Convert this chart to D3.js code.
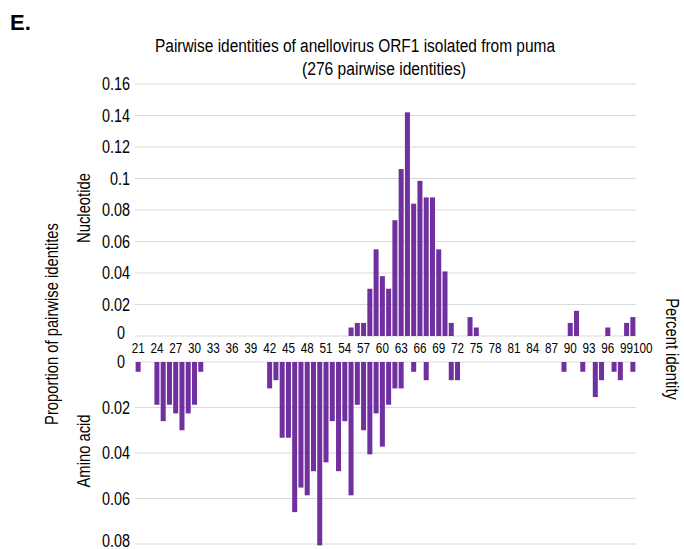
<!DOCTYPE html>
<html>
<head>
<meta charset="utf-8">
<script src="https://cdn.jsdelivr.net/npm/d3@7"></script>
<style>
  html, body { margin: 0; padding: 0; background: #fff; }
  svg { display: block; }
  text { font-family: "Liberation Sans", Arial, sans-serif; fill: #000; }
</style>
</head>
<body>
<svg id="chart" width="684" height="549"></svg>
<script>
// Percent identity categories on the shared x axis
const categories = d3.range(21, 101);
const xTickLabels = [21, 24, 27, 30, 33, 36, 39, 42, 45, 48, 51, 54, 57, 60, 63, 66, 69, 72, 75, 78, 81, 84, 87, 90, 93, 96, 99, 100];

// Nucleotide pairwise identities (upper panel)
const ntIdentity   = [55, 56, 57, 58, 59, 60, 61, 62, 63, 64, 65, 66, 67, 68, 69, 70, 71, 74, 75, 90, 91, 96, 99, 100];
const ntProportion = [0.0054, 0.0083, 0.0083, 0.030, 0.055, 0.038, 0.030, 0.0735, 0.106, 0.142, 0.084, 0.0985,
                      0.088, 0.088, 0.055, 0.041, 0.0083, 0.012, 0.0054, 0.0083, 0.016, 0.0054, 0.0083, 0.012];

// Amino acid pairwise identities (lower panel, drawn downward)
const aaIdentity   = [21, 24, 25, 26, 27, 28, 29, 30, 31, 42, 43, 44, 45, 46, 47, 48, 49, 50, 51, 52, 53, 54, 55,
                      56, 57, 58, 59, 60, 61, 62, 63, 65, 67, 71, 72, 89, 92, 94, 95, 97, 98, 100];
const aaProportion = [0.0043, 0.0188, 0.026, 0.0188, 0.0226, 0.030, 0.0226, 0.0188, 0.0043, 0.0116, 0.008, 0.0333,
                      0.0333, 0.066, 0.0552, 0.0586, 0.048, 0.0806, 0.0441, 0.026, 0.048, 0.026, 0.0586, 0.0188,
                      0.030, 0.0406, 0.0226, 0.0372, 0.0188, 0.0116, 0.0116, 0.0043, 0.008, 0.008, 0.008, 0.0043,
                      0.0043, 0.0154, 0.008, 0.0043, 0.008, 0.0043];

const ntTicks = [0, 0.02, 0.04, 0.06, 0.08, 0.1, 0.12, 0.14, 0.16];
const aaTicks = [0, 0.02, 0.04, 0.06, 0.08];

const barColor = "#7030A0";
const gridColor = "#d9d9d9";

const svg = d3.select("#chart");

// Narrow the glyphs horizontally to get a condensed typeface look
function condense(sel, factor) {
  sel.each(function () {
    const w = this.getComputedTextLength();
    d3.select(this).attr("textLength", (w * factor).toFixed(2)).attr("lengthAdjust", "spacingAndGlyphs");
  });
  return sel;
}

const plotLeft = 135, plotRight = 636;
const x = d3.scaleBand().domain(categories).range([plotLeft, plotRight]).paddingInner(0.2).paddingOuter(0.1);
const yTop = d3.scaleLinear().domain([0, 0.16]).range([336, 84]);
const yBot = d3.scaleLinear().domain([0, 0.08]).range([362, 544]);

const fmt = d => String(+d.toFixed(2));

// Gridlines
svg.append("g").selectAll("line").data(ntTicks).join("line")
  .attr("x1", plotLeft).attr("x2", plotRight)
  .attr("y1", d => yTop(d)).attr("y2", d => yTop(d))
  .attr("stroke", gridColor).attr("stroke-width", 1);
svg.append("g").selectAll("line").data(aaTicks).join("line")
  .attr("x1", plotLeft).attr("x2", plotRight)
  .attr("y1", d => yBot(d)).attr("y2", d => yBot(d))
  .attr("stroke", gridColor).attr("stroke-width", 1);

// Bars
const ntData = ntIdentity.map((k, i) => ({ k, v: ntProportion[i] }));
const aaData = aaIdentity.map((k, i) => ({ k, v: aaProportion[i] }));

svg.append("g").selectAll("rect").data(ntData).join("rect")
  .attr("x", d => x(d.k)).attr("width", x.bandwidth())
  .attr("y", d => yTop(d.v)).attr("height", d => yTop(0) - yTop(d.v))
  .attr("fill", barColor);

svg.append("g").selectAll("rect").data(aaData).join("rect")
  .attr("x", d => x(d.k)).attr("width", x.bandwidth())
  .attr("y", yBot(0)).attr("height", d => yBot(d.v) - yBot(0))
  .attr("fill", barColor);

// Y axes
const axTop = svg.append("g").attr("transform", `translate(${plotLeft},0)`)
  .call(d3.axisLeft(yTop).tickValues(ntTicks).tickFormat(fmt).tickSize(0).tickPadding(5));
const axBot = svg.append("g").attr("transform", `translate(${plotLeft},0)`)
  .call(d3.axisLeft(yBot).tickValues(aaTicks).tickFormat(fmt).tickSize(0).tickPadding(5));
[axTop, axBot].forEach(g => {
  g.select(".domain").remove();
  g.selectAll("text").style("font-size", "18px").style("font-family", '"Liberation Sans", Arial, sans-serif');
  condense(g.selectAll("text"), 0.8);
});
// Zero labels sit just off the shared baseline; the last label stays inside the page
axTop.selectAll(".tick").filter(d => d === 0).select("text").attr("dy", "0.15em").attr("x", -10);
axBot.selectAll(".tick").filter(d => d === 0).select("text").attr("dy", "0.32em").attr("x", -10);
axBot.selectAll(".tick").filter(d => d === 0.08).select("text").attr("dy", "0.12em");

// X axis labels between the two panels
const axX = svg.append("g").attr("transform", `translate(0,${yTop(0)})`)
  .call(d3.axisBottom(x).tickValues(xTickLabels).tickSize(0).tickPadding(6));
axX.select(".domain").remove();
axX.selectAll("text").style("font-size", "15px").style("font-family", '"Liberation Sans", Arial, sans-serif');
condense(axX.selectAll("text"), 0.78);
axX.selectAll(".tick").filter(d => d === 100).select("text").attr("x", 10);

// Titles
svg.append("text").attr("x", 10).attr("y", 30)
  .style("font-weight", "bold").style("font-size", "22px").text("E.");

svg.append("text").attr("x", 355).attr("y", 52).attr("text-anchor", "middle")
  .style("font-size", "18px").text("Pairwise identities of anellovirus ORF1 isolated from puma")
  .attr("textLength", 400).attr("lengthAdjust", "spacingAndGlyphs");
svg.append("text").attr("x", 384).attr("y", 75).attr("text-anchor", "middle")
  .style("font-size", "18px").text("(276 pairwise identities)")
  .attr("textLength", 164).attr("lengthAdjust", "spacingAndGlyphs");

// Axis titles
const axisTitles = [
  { t: "translate(58,324) rotate(-90)", s: "Proportion of pairwise identites" },
  { t: "translate(90,208) rotate(-90)", s: "Nucleotide" },
  { t: "translate(90,451) rotate(-90)", s: "Amino acid" },
  { t: "translate(666,349) rotate(90)", s: "Percent identity" }
];
svg.append("g").selectAll("text").data(axisTitles).join("text")
  .attr("transform", d => d.t).attr("text-anchor", "middle")
  .style("font-size", "18px").text(d => d.s)
  .call(sel => condense(sel, 0.82));
</script>
</body>
</html>
